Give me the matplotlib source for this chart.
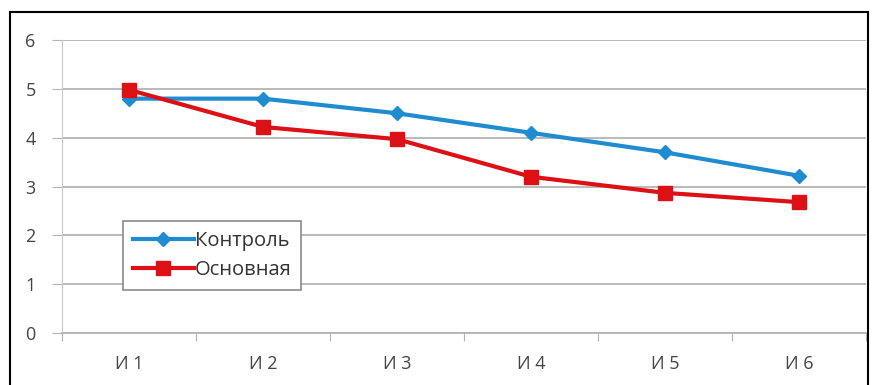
import matplotlib
matplotlib.use("Agg")
import matplotlib.pyplot as plt
from matplotlib.lines import Line2D

#data
categories = ["И 1", "И 2", "И 3", "И 4", "И 5", "И 6"]
control = [4.8, 4.8, 4.5, 4.1, 3.7, 3.22]
main_grp = [4.98, 4.22, 3.97, 3.2, 2.87, 2.68]
yticks = [0, 1, 2, 3, 4, 5, 6]

#_____________________________________________________________________________
def main():

    plt.rcParams["font.family"] = ["Open Sans", "DejaVu Sans"]

    fig = plt.figure(figsize=(8.74, 3.85), dpi=100)
    ax = fig.add_axes([0.071, 0.135, 0.920, 0.761])

    xp = list(range(len(categories)))

    ax.plot(xp, control, "-D", color="#1f8bd0", lw=3, ms=7, label="Контроль", zorder=3)
    ax.plot(xp, main_grp, "-s", color="#dd1016", lw=3, ms=10, label="Основная", zorder=3)

    ax.set_xlim(-0.5, len(categories)-0.5)
    ax.set_ylim(0, 6)

    ax.set_yticks(yticks)
    ax.grid(True, axis="y", color="#b4b4b4", lw=1.3)
    ax.set_axisbelow(True)

    #category ticks at boundaries
    ax.set_xticks([i-0.5 for i in range(len(categories)+1)], minor=False)
    ax.set_xticklabels([])
    ax.set_xticks(xp, minor=True)
    ax.set_xticklabels(categories, minor=True)
    ax.tick_params(axis="x", which="major", length=6, color="#b4b4b4", direction="out")
    ax.tick_params(axis="x", which="minor", length=0, pad=16, labelsize=13, labelcolor="#444444")
    ax.tick_params(axis="y", length=7, color="#b4b4b4", pad=12, labelsize=13, labelcolor="#444444")

    for s in ["top", "right"]:
        ax.spines[s].set_visible(False)
    ax.spines["left"].set_color("#c8c8c8")
    ax.spines["bottom"].set_color("#b4b4b4")
    ax.spines["bottom"].set_linewidth(1.3)

    leg = ax.legend(loc="lower left", bbox_to_anchor=(0.076, 0.147), fontsize=14.5,
                    handlelength=3.0, handletextpad=0.05, borderpad=0.5,
                    labelspacing=0.45, borderaxespad=0, fancybox=False, framealpha=1)
    leg.get_frame().set_edgecolor("#8a8a8a")
    leg.get_frame().set_linewidth(1.2)
    for t in leg.get_texts():
        t.set_color("#333333")

    #outer frame
    x0, x1 = 10/874., 868/874.
    y1 = 1-12/385.
    fig.add_artist(Line2D([x0, x0], [0, y1], color="black", lw=1.5))
    fig.add_artist(Line2D([x0, x1], [y1, y1], color="black", lw=1.5))
    fig.add_artist(Line2D([x1, x1], [0, y1], color="black", lw=1.5))

    fig.savefig("out.png", dpi=100)
    plt.close()

#main

#_____________________________________________________________________________
if __name__ == "__main__":

    main()
